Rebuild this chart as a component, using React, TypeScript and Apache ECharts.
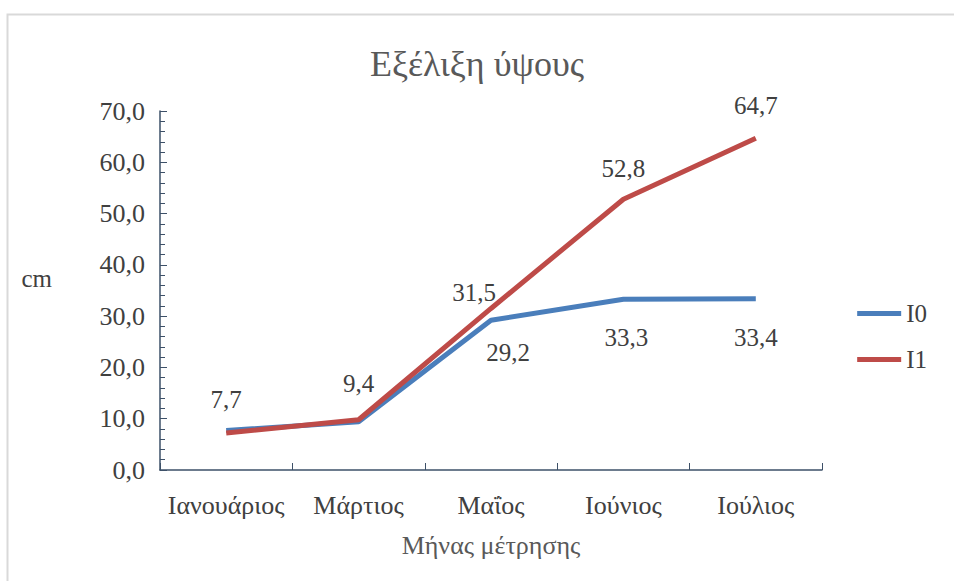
import React, { useEffect, useRef } from "react";
import * as echarts from "echarts";

const categories = ["Ιανουάριος", "Μάρτιος", "Μαΐος", "Ιούνιος", "Ιούλιος"];
const seriesI0 = [7.7, 9.4, 29.2, 33.3, 33.4];
const seriesI1 = [7.2, 9.8, 31.5, 52.8, 64.7];
const i0LabelPos = ["top", "top", "bottom", "bottom", "bottom"];
const i1LabelShow = [false, false, true, true, true];

const FONT = "Liberation Serif";
const fmt = (v: number) => v.toFixed(1).replace(".", ",");

export default function App() {
  const ref = useRef<HTMLDivElement>(null);
  useEffect(() => {
    document.body.style.margin = "0";
    if (!ref.current) return;
    const chart = echarts.init(ref.current, undefined, { renderer: "svg" });
    const i0Dist = [19, 26, 20, 26, 26];
    const i0Off = [[0, 0], [0, 0], [17, 0], [3, 0], [0, 0]];
    const i1Dist = [18, 18, 3, 18, 20];
    const i1Off = [[0, 0], [0, 0], [-17, 0], [0, 0], [0, 0]];
    chart.setOption({
      animation: false,
      backgroundColor: "#ffffff",
      textStyle: { fontFamily: FONT },
      title: {
        text: "Εξέλιξη ύψους",
        left: "center",
        top: 41,
        textStyle: { fontFamily: FONT, fontSize: 36, fontWeight: "normal", color: "#595959" },
      },
      legend: {
        orient: "vertical",
        right: 22,
        top: 296,
        itemWidth: 44,
        itemHeight: 5,
        itemGap: 21,
        icon: "rect",
        textStyle: { fontFamily: FONT, fontSize: 25, color: "#404040" },
        data: ["I0", "I1"],
      },
      grid: { left: 160, right: 132, top: 111, bottom: 111, containLabel: false },
      xAxis: {
        type: "category",
        data: categories,
        boundaryGap: true,
        name: "Μήνας μέτρησης",
        nameLocation: "middle",
        nameGap: 62,
        nameTextStyle: { fontFamily: FONT, fontSize: 26, color: "#595959" },
        axisLine: { lineStyle: { color: "#3d5068", width: 1.5 } },
        axisTick: { show: true, inside: true, length: 7, alignWithLabel: false, interval: 0, lineStyle: { color: "#3d5068" } },
        axisLabel: { fontFamily: FONT, fontSize: 26, color: "#404040", margin: 22, interval: 0 },
      },
      yAxis: {
        type: "value",
        min: 0,
        max: 70,
        interval: 10,
        name: "cm",
        nameLocation: "middle",
        nameRotate: 0,
        nameGap: 108,
        nameTextStyle: { fontFamily: FONT, fontSize: 25, color: "#404040", verticalAlign: "bottom" },
        axisLine: { show: true, lineStyle: { color: "#3d5068", width: 1.5 } },
        axisTick: { show: true, inside: true, length: 7, lineStyle: { color: "#3d5068" } },
        minorTick: { show: true, splitNumber: 5, length: 5, lineStyle: { color: "#3d5068" } },
        splitLine: { show: false },
        axisLabel: { fontFamily: FONT, fontSize: 26, color: "#404040", margin: 15, formatter: (v: number) => fmt(v) },
      },
      graphic: [
        {
          type: "rect",
          left: 5,
          top: 12,
          shape: { width: 980, height: 600 },
          style: { fill: "none", stroke: "#d9d9d9", lineWidth: 2 },
          silent: true,
        },
      ],
      series: [
        {
          name: "I0",
          type: "line",
          data: seriesI0.map((v, i) => ({
            value: v,
            label: { position: i0LabelPos[i], distance: i0Dist[i], offset: i0Off[i] },
          })),
          showSymbol: true,
          symbol: "circle",
          symbolSize: 0.01,
          lineStyle: { color: "#4a7ebb", width: 5 },
          itemStyle: { color: "#4a7ebb" },
          label: {
            show: true,
            fontFamily: FONT,
            fontSize: 25,
            color: "#404040",
            formatter: (p: any) => fmt(p.value),
          },
          z: 2,
        },
        {
          name: "I1",
          type: "line",
          data: seriesI1.map((v, i) => ({
            value: v,
            label: { show: i1LabelShow[i], position: "top", distance: i1Dist[i], offset: i1Off[i] },
          })),
          showSymbol: true,
          symbol: "circle",
          symbolSize: 0.01,
          lineStyle: { color: "#be4b48", width: 5 },
          itemStyle: { color: "#be4b48" },
          label: {
            fontFamily: FONT,
            fontSize: 25,
            color: "#404040",
            formatter: (p: any) => fmt(p.value),
          },
          z: 3,
        },
      ],
    });
    return () => chart.dispose();
  }, []);
  return <div ref={ref} style={{ width: 954, height: 581 }} />;
}
